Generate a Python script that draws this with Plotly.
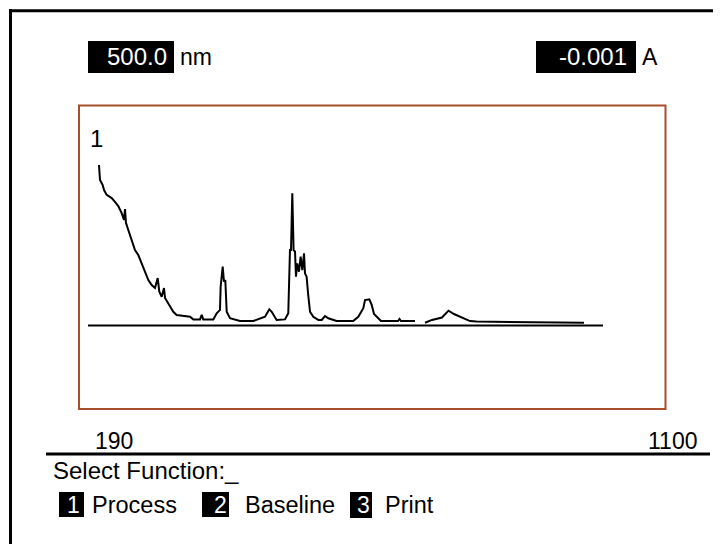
import plotly.graph_objects as go

# ---------------- data ----------------
wavelength_nm = [209.4, 211.2, 216.0, 218.3, 223.0, 231.9, 237.7, 243.5, 249.5, 253.6,
                 255.4, 257.1, 261.2, 267.2, 273.0, 278.9, 284.9, 290.7, 296.6, 302.6,
                 308.4, 313.2, 316.0, 320.2, 324.3, 326.1, 330.1, 334.9, 340.7, 346.7,
                 358.4, 370.2, 376.1, 387.9, 390.9, 393.6, 411.4, 417.4, 423.2, 424.4,
                 428.0, 430.3, 432.6, 435.1, 440.9, 458.6, 482.1, 493.9, 502.8, 510.4,
                 514.6, 523.3, 538.1, 543.9, 546.9, 548.7, 551.0, 553.3, 555.8, 557.5,
                 559.8, 562.8, 565.7, 568.7, 571.7, 573.4, 576.3, 578.8, 582.3, 588.1,
                 597.0, 603.0, 608.8, 614.6, 629.3, 658.7, 667.6, 676.5, 679.5, 687.1,
                 691.3, 695.4, 703.0, 707.7, 737.8, 740.4, 743.1, 767.8, None, 785.5,
                 797.8, 815.5, 827.0, 836.7, 849.1, 865.0, 876.5, 1066.4]
absorbance = [0.865, 0.784, 0.757, 0.730, 0.704, 0.687, 0.667, 0.644, 0.606, 0.569,
              0.628, 0.553, 0.515, 0.461, 0.407, 0.380, 0.337, 0.290, 0.245, 0.218,
              0.202, 0.256, 0.182, 0.155, 0.202, 0.148, 0.128, 0.101, 0.074, 0.057,
              0.051, 0.047, 0.033, 0.033, 0.057, 0.033, 0.033, 0.066, 0.084, 0.209,
              0.317, 0.236, 0.245, 0.074, 0.039, 0.024, 0.024, 0.039, 0.047, 0.087,
              0.074, 0.030, 0.033, 0.066, 0.407, 0.407, 0.713, 0.407, 0.398, 0.263,
              0.335, 0.290, 0.371, 0.299, 0.389, 0.281, 0.263, 0.174, 0.074, 0.047,
              0.030, 0.030, 0.051, 0.039, 0.024, 0.024, 0.047, 0.093, 0.137, 0.141,
              0.111, 0.062, 0.039, 0.024, 0.024, 0.035, 0.024, 0.024, None, 0.015,
              0.030, 0.043, 0.080, 0.062, 0.046, 0.024, 0.021, 0.015]
baseline_nm = [190, 1100]
baseline_abs = [0, 0]
axis_labels = ["190", "1100"]
scale_label = "1"
wavelength_readout = "500.0"
wavelength_unit = "nm"
absorbance_readout = "-0.001"
absorbance_unit = "A"
prompt_text = "Select Function:_"
menu_keys = ["1", "2", "3"]
menu_items = ["Process", "Baseline", "Print"]

# ---------------- layout helpers ----------------
# the page body adds an 8px margin, so the figure is offset by 8px
OFF = 8
W, H = 721 - OFF, 544 - OFF
FONT = "Liberation Sans, Arial, Helvetica, sans-serif"
BROWN = "#a64f2a"


def px(x):
    return (x - OFF) / W


def py(y):
    return 1 - (y - OFF) / H


# pixel -> data mapping of plot box
NM_PER_PX = (1100 - 190) / (603 - 88)
A_PER_PX = 1 / 185.5
x_range = [190 + (79 - 88) * NM_PER_PX, 190 + (665 - 88) * NM_PER_PX]
y_range = [(325.5 - 409) * A_PER_PX, (325.5 - 105) * A_PER_PX]

fig = go.Figure()
fig.add_trace(go.Scatter(x=baseline_nm, y=baseline_abs, mode="lines",
                         line=dict(color="black", width=2), hoverinfo="skip"))
fig.add_trace(go.Scatter(x=wavelength_nm, y=absorbance, mode="lines",
                         line=dict(color="black", width=2), connectgaps=False,
                         hoverinfo="skip"))

shapes = []
# outer frame lines
shapes.append(dict(type="line", xref="paper", yref="paper", x0=px(10.5), x1=px(10.5),
                   y0=py(9), y1=py(544), line=dict(color="black", width=3)))
shapes.append(dict(type="line", xref="paper", yref="paper", x0=px(9), x1=px(721),
                   y0=py(10.8), y1=py(10.8), line=dict(color="black", width=3)))
# separator line
shapes.append(dict(type="line", xref="paper", yref="paper", x0=px(46), x1=px(710),
                   y0=py(454), y1=py(454), line=dict(color="black", width=3)))
# brown plot box
shapes.append(dict(type="rect", xref="paper", yref="paper", x0=px(79), x1=px(665.5),
                   y0=py(409), y1=py(105.5), line=dict(color=BROWN, width=2)))


def black_box(x0, x1, y0, y1):
    shapes.append(dict(type="rect", xref="paper", yref="paper", x0=px(x0), x1=px(x1),
                       y0=py(y1), y1=py(y0), fillcolor="black", line=dict(width=0)))


black_box(88, 174, 41, 73)
black_box(536, 636, 41, 73)
black_box(59, 84, 492, 517)
black_box(202, 229, 492, 517)
black_box(350, 372, 492, 518)

ann = []


def text(x, y, s, anchor="left", color="black", size=23):
    ann.append(dict(x=px(x), y=py(y), xref="paper", yref="paper", text=s,
                    showarrow=False, xanchor=anchor, yanchor="middle",
                    font=dict(family=FONT, size=size, color=color)))


text(169, 57, wavelength_readout, "right", "white", 24)
text(178, 57, wavelength_unit, "left", "black", 23)
text(629, 57, absorbance_readout, "right", "white", 24)
text(640, 57, absorbance_unit, "left", "black", 23)
text(96, 138, scale_label, "center", "black", 24)
text(113.5, 440.5, axis_labels[0], "center", "black", 23)
text(699, 440.5, axis_labels[1], "right", "black", 23)
text(51, 470, prompt_text, "left", "black", 24)
key_right = [82, 229, 372]
item_left = [90, 243, 383]
for k, it, kr, il in zip(menu_keys, menu_items, key_right, item_left):
    text(kr, 505, k, "right", "white", 23)
    text(il, 505, it, "left", "black", 23.5)

fig.update_layout(
    width=W, height=H, margin=dict(l=0, r=0, t=0, b=0),
    paper_bgcolor="white", plot_bgcolor="white", showlegend=False,
    xaxis=dict(domain=[px(79), px(665)], range=x_range, visible=False, fixedrange=True),
    yaxis=dict(domain=[py(409), py(105)], range=y_range, visible=False, fixedrange=True),
    shapes=shapes, annotations=ann,
)

fig.write_html("out.html", config={"displayModeBar": False})
